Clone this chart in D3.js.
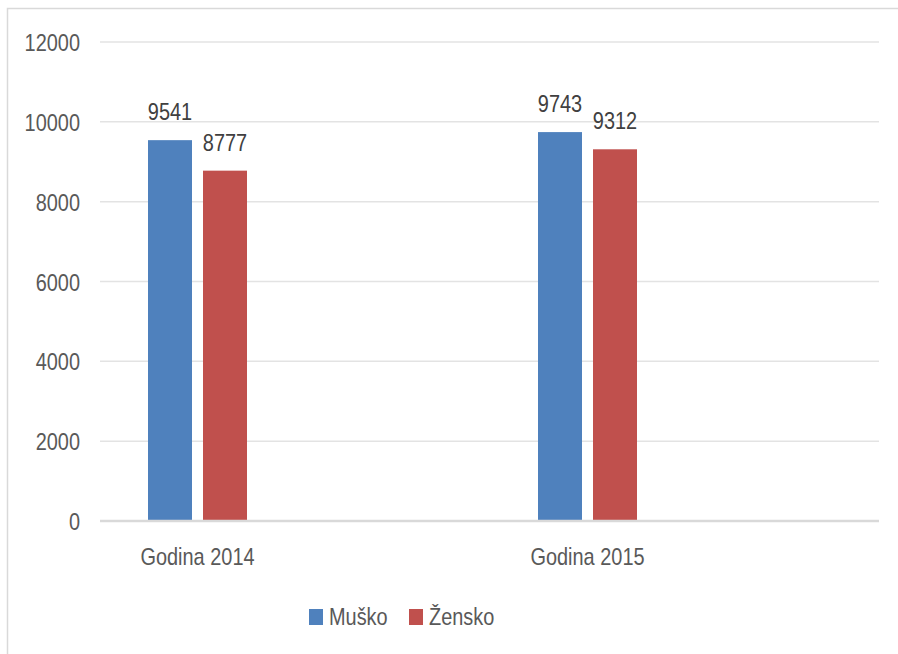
<!DOCTYPE html>
<html>
<head>
<meta charset="utf-8">
<script src="https://cdn.jsdelivr.net/npm/d3@7"></script>
<style>
  body { margin: 0; background: #fff; }
  text { font-family: "Liberation Sans", Arial, sans-serif; font-size: 24px; }
</style>
</head>
<body>
<svg width="898" height="654"></svg>
<script>
// data
var categories = ["Godina 2014", "Godina 2015"];
var seriesNames = ["Muško", "Žensko"];
var musko = [9541, 9743];
var zensko = [8777, 9312];
var yTicks = [0, 2000, 4000, 6000, 8000, 10000, 12000];
var colors = ["#4F81BD", "#C0504D"];

var SX = 0.83; // narrow the glyphs a bit (original font is Calibri-like)

var svg = d3.select("svg");

// outer chart border (runs off the canvas on right and bottom)
svg.append("rect")
    .attr("x", 7.5).attr("y", 8.5)
    .attr("width", 1000).attr("height", 1000)
    .attr("fill", "none")
    .attr("stroke", "#d9d9d9")
    .attr("stroke-width", 1.5);

var plotLeft = 100, plotRight = 880, plotTop = 42, plotBottom = 521;

var y = d3.scaleLinear().domain([0, 12000]).range([plotBottom, plotTop]);
var x0 = d3.scaleBand().domain(categories).range([plotLeft, plotRight]);
var x1 = d3.scaleBand().domain(seriesNames).range([48, 147]).paddingInner(0.2);

function place(x, yy) { return "translate(" + x + "," + yy + ") scale(" + SX + ",1)"; }

// gridlines
svg.append("g").selectAll("line")
  .data(yTicks.filter(function(d) { return d > 0; }))
  .enter().append("line")
    .attr("x1", plotLeft).attr("x2", plotRight - 1)
    .attr("y1", function(d) { return y(d); })
    .attr("y2", function(d) { return y(d); })
    .attr("stroke", "#e3e3e3")
    .attr("stroke-width", 1.5);

// y axis labels
var yAxis = svg.append("g")
    .attr("transform", "translate(80,0)")
    .call(d3.axisLeft(y).tickValues(yTicks).tickSize(0).tickPadding(0).tickFormat(d3.format("d")));
yAxis.select(".domain").remove();
yAxis.selectAll("text")
    .attr("x", 0)
    .attr("dy", "0.36em")
    .attr("font-size", null)
    .attr("font-family", null)
    .attr("fill", "#595959")
    .attr("transform", "scale(" + SX + ",1)");

// bars
var rows = categories.map(function(c, i) {
  return { cat: c, vals: [{ s: seriesNames[0], v: musko[i], c: colors[0] },
                          { s: seriesNames[1], v: zensko[i], c: colors[1] }] };
});

var groups = svg.selectAll(".grp")
  .data(rows)
  .enter().append("g")
    .attr("class", "grp")
    .attr("transform", function(d) { return "translate(" + x0(d.cat) + ",0)"; });

groups.selectAll("rect")
  .data(function(d) { return d.vals; })
  .enter().append("rect")
    .attr("x", function(d) { return x1(d.s); })
    .attr("y", function(d) { return y(d.v); })
    .attr("width", x1.bandwidth())
    .attr("height", function(d) { return plotBottom - y(d.v); })
    .attr("fill", function(d) { return d.c; });

groups.selectAll(".val")
  .data(function(d) { return d.vals; })
  .enter().append("text")
    .attr("class", "val")
    .attr("transform", function(d) { return place(x1(d.s) + x1.bandwidth() / 2, y(d.v) - 20); })
    .attr("text-anchor", "middle")
    .attr("fill", "#404040")
    .text(function(d) { return d.v; });

// zero line
svg.append("line")
    .attr("x1", plotLeft).attr("x2", plotRight - 1)
    .attr("y1", y(0)).attr("y2", y(0))
    .attr("stroke", "#d9d9d9")
    .attr("stroke-width", 2.5);

// category labels
var mid = (x1.range()[0] + x1.range()[1]) / 2;
svg.selectAll(".cat")
  .data(categories)
  .enter().append("text")
    .attr("class", "cat")
    .attr("transform", function(d) { return place(x0(d) + mid, 565); })
    .attr("text-anchor", "middle")
    .attr("fill", "#595959")
    .text(function(d) { return d; });

// legend
var legendX = [309, 409];
var legend = svg.selectAll(".leg")
  .data(seriesNames)
  .enter().append("g")
    .attr("class", "leg")
    .attr("transform", function(d, i) { return "translate(" + legendX[i] + ",609)"; });
legend.append("rect")
    .attr("width", 14).attr("height", 16)
    .attr("fill", function(d, i) { return colors[i]; });
legend.append("text")
    .attr("transform", place(20, 16))
    .attr("fill", "#595959")
    .text(function(d) { return d; });
</script>
</body>
</html>
